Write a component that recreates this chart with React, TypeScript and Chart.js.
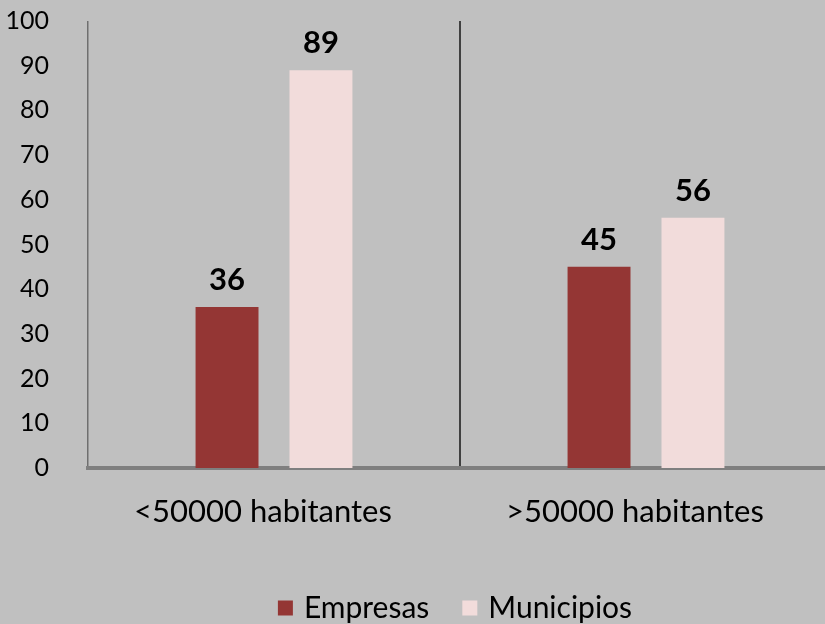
import React, { useEffect, useRef } from "react";
import { Chart, registerables } from "chart.js";

Chart.register(...registerables);

const categories = ["<50000 habitantes", ">50000 habitantes"];
const empresas = [36, 45];
const municipios = [89, 56];
const seriesNames = ["Empresas", "Municipios"];
const seriesColors = ["#943634", "#F2DCDB"];
const yTicks = [0, 10, 20, 30, 40, 50, 60, 70, 80, 90, 100];

const FONT = "Lato, 'Open Sans', sans-serif";

const valueLabels = {
  id: "valueLabels",
  afterDatasetsDraw(chart: any) {
    const ctx = chart.ctx;
    ctx.save();
    ctx.font = `bold 31px ${FONT}`;
    ctx.fillStyle = "#000";
    ctx.textAlign = "center";
    ctx.textBaseline = "middle";
    chart.data.datasets.forEach((ds: any, i: number) => {
      const meta = chart.getDatasetMeta(i);
      meta.data.forEach((bar: any, j: number) => {
        ctx.fillText(String(ds.data[j]), bar.x, bar.y - 27);
      });
    });
    ctx.restore();
  },
};

const customLegend = {
  id: "customLegend",
  afterDraw(chart: any) {
    const ctx = chart.ctx;
    ctx.save();
    ctx.font = `30px ${FONT}`;
    ctx.textBaseline = "middle";
    ctx.textAlign = "left";
    const box = 15;
    const gapBoxText = 11;
    const gapItems = 33;
    const widths = seriesNames.map((n) => box + gapBoxText + ctx.measureText(n).width);
    const total = widths.reduce((a, b) => a + b, 0) + gapItems * (seriesNames.length - 1);
    const ca = chart.chartArea;
    let x = (ca.left + ca.right) / 2 - 5 - total / 2;
    const y = 608;
    seriesNames.forEach((n, i) => {
      ctx.fillStyle = seriesColors[i];
      ctx.fillRect(x, y - box / 2, box, box);
      ctx.fillStyle = "#000";
      ctx.fillText(n, x + box + gapBoxText, y);
      x += widths[i] + gapItems;
    });
    ctx.restore();
  },
};

export default function App() {
  const ref = useRef<HTMLCanvasElement>(null);
  useEffect(() => {
    if (!ref.current) return;
    const chart = new Chart(ref.current, {
      type: "bar",
      data: {
        labels: categories,
        datasets: [
          {
            label: seriesNames[0],
            data: empresas,
            backgroundColor: seriesColors[0],
            categoryPercentage: 0.505,
            barPercentage: 0.67,
          },
          {
            label: seriesNames[1],
            data: municipios,
            backgroundColor: seriesColors[1],
            categoryPercentage: 0.505,
            barPercentage: 0.67,
          },
        ],
      },
      options: {
        animation: false,
        responsive: false,
        maintainAspectRatio: false,
        layout: { padding: { top: 21, right: 0, bottom: 0, left: 0 } },
        plugins: {
          legend: { display: false },
          tooltip: { enabled: false },
        },
        scales: {
          x: {
            grid: {
              display: true,
              offset: true,
              drawTicks: false,
              drawOnChartArea: true,
              color: (c: any) => (c.index === 0 ? "#6f6f6f" : "#404040"),
              lineWidth: (c: any) => (c.index === 0 ? 1.5 : 2),
            },
            border: { display: true, color: "#7f7f7f", width: 4 },
            ticks: {
              font: { size: 31, family: FONT },
              color: "#000",
              padding: 25,
              labelOffset: -11,
            },
            afterFit: (s: any) => {
              s.height = 156;
            },
          },
          y: {
            min: 0,
            max: 100,
            afterBuildTicks: (s: any) => {
              s.ticks = yTicks.map((v) => ({ value: v }));
            },
            grid: { display: false },
            border: { display: false },
            ticks: {
              font: { size: 25, family: FONT },
              color: "#000",
              padding: 31,
            },
            afterFit: (s: any) => {
              s.width = 88;
              s.paddingTop = 0;
              s.paddingBottom = 0;
            },
          },
        },
      },
      plugins: [valueLabels, customLegend],
    });
    return () => chart.destroy();
  }, []);
  return (
    <div
      style={{
        position: "fixed",
        left: 0,
        top: 0,
        width: 825,
        height: 624,
        overflow: "hidden",
        background: "#C0C0C0",
      }}
    >
      <canvas ref={ref} width={832} height={624} style={{ display: "block" }} />
    </div>
  );
}
